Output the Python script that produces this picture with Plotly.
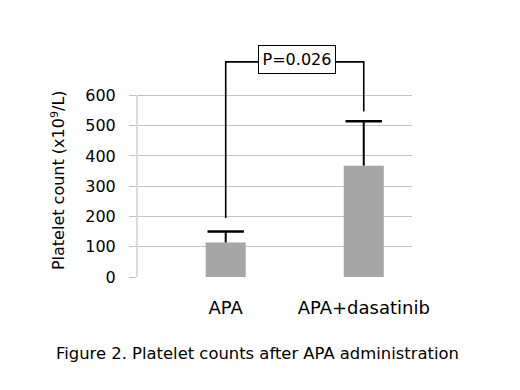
import plotly.graph_objects as go

categories = ["APA", "APA+dasatinib"]
means = [114, 368]
sd_upper = [36, 147]
y_ticks = [0, 100, 200, 300, 400, 500, 600]
p_label = "P=0.026"
bracket_left_bottom = 195
bracket_right_bottom = 547
bracket_top = 711

FONT = "DejaVu Sans"
GRID = "#c4c4c4"

xpos = list(range(len(categories)))
tops = [m + s for m, s in zip(means, sd_upper)]

fig = go.Figure()
fig.add_trace(go.Bar(
    x=xpos, y=means, width=0.29,
    marker=dict(color="#a6a6a6", line=dict(width=0)),
    showlegend=False, hoverinfo="skip",
))
# upper error bars (stem + cap)
ex, ey = [], []
for x, m, t in zip(xpos, means, tops):
    ex += [x, x, None]
    ey += [m, t, None]
fig.add_trace(go.Scatter(
    x=ex, y=ey, mode="lines", line=dict(color="black", width=2),
    showlegend=False, hoverinfo="skip",
))
fig.add_trace(go.Scatter(
    x=xpos, y=tops, mode="markers",
    marker=dict(symbol="line-ew", size=26, line=dict(color="black", width=2.5)),
    showlegend=False, hoverinfo="skip", cliponaxis=False,
))
# significance bracket
fig.add_trace(go.Scatter(
    x=[xpos[0], xpos[0], xpos[1], xpos[1]],
    y=[bracket_left_bottom, bracket_top, bracket_top, bracket_right_bottom],
    mode="lines", line=dict(color="black", width=1.6),
    showlegend=False, hoverinfo="skip",
))
fig.add_annotation(
    x=0.52, y=bracket_top + 7, xref="x", yref="y", text=p_label,
    showarrow=False, bgcolor="white", bordercolor="black", borderwidth=1,
    borderpad=4, width=68, font=dict(family=FONT, size=16, color="black"),
)
# y axis line from 0 to 600
fig.add_shape(type="line", xref="paper", yref="y", x0=0, x1=0,
              y0=0, y1=max(y_ticks), line=dict(color=GRID, width=1.2))
# y title
fig.add_annotation(
    x=-0.286, y=0.423, xref="paper", yref="paper", textangle=-90,
    xanchor="center", yanchor="middle",
    text="Platelet count (x10<sup>9</sup>/L)", showarrow=False,
    font=dict(family=FONT, size=16, color="black"),
)
# caption
fig.add_annotation(
    x=0.4388, y=-0.3335, xref="paper", yref="paper", xanchor="center",
    yanchor="middle",
    text="Figure 2. Platelet counts after APA administration", showarrow=False,
    font=dict(family=FONT, size=16.4, color="black"),
)

fig.update_layout(
    width=520, height=390,
    margin=dict(l=129, r=116, t=39, b=121, pad=0),
    plot_bgcolor="white", paper_bgcolor="white",
    font=dict(family=FONT, color="black"),
    xaxis=dict(range=[-0.6426, 1.3495], tickvals=xpos, ticktext=categories,
               showgrid=False, zeroline=False, showline=False, ticks="",
               ticklabelstandoff=18, tickfont=dict(size=18, family=FONT)),
    yaxis=dict(range=[0, 760], tickvals=y_ticks, showgrid=True,
               gridcolor=GRID, gridwidth=1.2, zeroline=False, showline=False,
               ticks="outside", ticklen=7, tickcolor=GRID, tickwidth=1.2,
               ticklabelstandoff=10, tickfont=dict(size=16, family=FONT)),
)

fig.write_html("out.html")
